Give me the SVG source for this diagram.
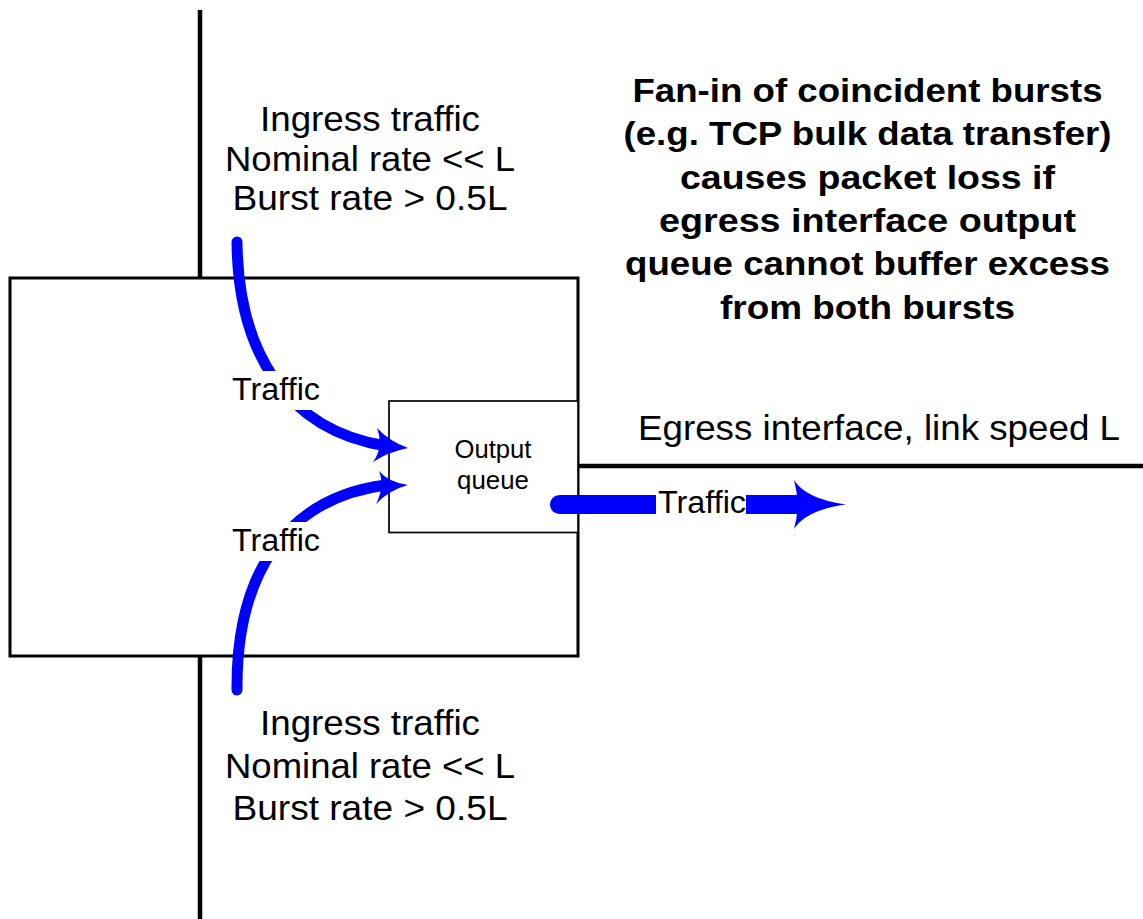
<svg xmlns="http://www.w3.org/2000/svg" width="1143" height="919" viewBox="0 0 1143 919">
  <style>
    .frame { fill: none; stroke: #000; stroke-width: 3; }
    .wire { stroke: #000; stroke-width: 4.5; fill: none; }
    .queue { fill: #fff; stroke: #000; stroke-width: 1.7; }
    .flow { fill: none; stroke: #0000ff; stroke-width: 11; }
    .flow-wide { fill: none; stroke: #0000ff; stroke-width: 19; }
    .head { fill: #0000ff; stroke: none; }
    .mask { fill: #fff; stroke: none; }
    text { font-family: "Liberation Sans", Arial, sans-serif; fill: #000; text-anchor: middle; }
    .lbl { font-size: 34.5px; }
    .note { font-size: 34px; font-weight: bold; }
    .tr { font-size: 31px; }
    .q { font-size: 25px; }
  </style>

  <!-- switch chassis and the three attached links -->
  <g id="switch">
    <rect class="frame" x="10" y="278" width="568" height="378"/>
  </g>
  <g id="links">
    <line class="wire" x1="200" y1="10" x2="200" y2="278"/>
    <line class="wire" x1="200" y1="656" x2="200" y2="919"/>
    <line class="wire" x1="578" y1="466" x2="1143" y2="466" stroke-linecap="round"/>
  </g>

  <g id="output-queue">
    <rect class="queue" x="389" y="401" width="189" height="131.5"/>
    <text class="q" x="493" y="458" textLength="77" lengthAdjust="spacingAndGlyphs">Output</text>
    <text class="q" x="493" y="489" textLength="72" lengthAdjust="spacingAndGlyphs">queue</text>
  </g>

  <!-- traffic flows -->
  <g id="connectors">
    <path class="flow" d="M237,242 C238,350 285,430 386,446" stroke-linecap="round"/>
    <path class="head" d="M377,428 Q389,441 408,448 Q388,452 373,462 Q384,447 377,428 Z"/>
    <path class="flow" d="M237,690 C236,575 285,498 386,485" stroke-linecap="round"/>
    <path class="head" d="M376,504 Q389,490 408,485 Q388,482 379,471 Q385,486 376,504 Z"/>
    <line class="flow-wide" x1="559.5" y1="504.5" x2="800" y2="504.5" stroke-linecap="round"/>
    <path class="head" d="M794,480 Q806,499 846,504.5 Q806,510 794,529 Q801,504.5 794,480 Z"/>
  </g>

  <!-- flow labels sit on white so they break the flow lines -->
  <g id="label-top-flow">
    <rect class="mask" x="229" y="371" width="94" height="39"/>
    <text class="tr" x="276" y="400" textLength="88" lengthAdjust="spacingAndGlyphs">Traffic</text>
  </g>
  <g id="label-bottom-flow">
    <rect class="mask" x="229" y="522" width="94" height="39"/>
    <text class="tr" x="276" y="551" textLength="88" lengthAdjust="spacingAndGlyphs">Traffic</text>
  </g>
  <g id="label-egress-flow">
    <rect class="mask" x="656" y="484" width="90" height="38"/>
    <text class="tr" x="702" y="513" textLength="88" lengthAdjust="spacingAndGlyphs">Traffic</text>
  </g>

  <g id="ingress-top">
    <text class="lbl" x="370" y="131" textLength="220" lengthAdjust="spacingAndGlyphs">Ingress traffic</text>
    <text class="lbl" x="370" y="171" textLength="290" lengthAdjust="spacingAndGlyphs">Nominal rate &lt;&lt; L</text>
    <text class="lbl" x="370" y="210" textLength="275" lengthAdjust="spacingAndGlyphs">Burst rate &gt; 0.5L</text>
  </g>

  <g id="ingress-bottom">
    <text class="lbl" x="370" y="735" textLength="220" lengthAdjust="spacingAndGlyphs">Ingress traffic</text>
    <text class="lbl" x="370" y="778" textLength="290" lengthAdjust="spacingAndGlyphs">Nominal rate &lt;&lt; L</text>
    <text class="lbl" x="370" y="820" textLength="275" lengthAdjust="spacingAndGlyphs">Burst rate &gt; 0.5L</text>
  </g>

  <g id="egress-label">
    <text class="lbl" x="879" y="440" textLength="482" lengthAdjust="spacingAndGlyphs">Egress interface, link speed L</text>
  </g>

  <g id="fan-in-note">
    <text class="note" x="867.5" y="102" textLength="470" lengthAdjust="spacingAndGlyphs">Fan-in of coincident bursts</text>
    <text class="note" x="867.5" y="145.3" textLength="488" lengthAdjust="spacingAndGlyphs">(e.g. TCP bulk data transfer)</text>
    <text class="note" x="867.5" y="188.6" textLength="375" lengthAdjust="spacingAndGlyphs">causes packet loss if</text>
    <text class="note" x="867.5" y="232" textLength="417" lengthAdjust="spacingAndGlyphs">egress interface output</text>
    <text class="note" x="867.5" y="275.3" textLength="485" lengthAdjust="spacingAndGlyphs">queue cannot buffer excess</text>
    <text class="note" x="867.5" y="318.6" textLength="295" lengthAdjust="spacingAndGlyphs">from both bursts</text>
  </g>
</svg>
